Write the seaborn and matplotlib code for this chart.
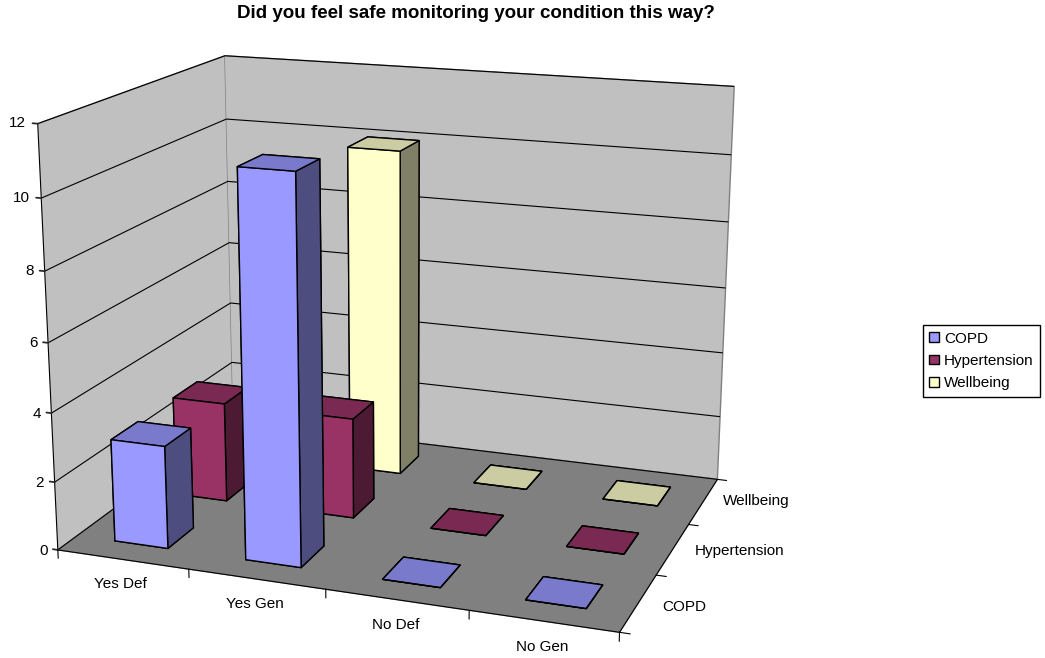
import matplotlib
matplotlib.use("Agg")
import matplotlib.pyplot as plt
from matplotlib.patches import Patch
from matplotlib.transforms import ScaledTranslation
import seaborn as sns

categories = ["Yes Def", "Yes Gen", "No Def", "No Gen"]
series_names = ["COPD", "Hypertension", "Wellbeing"]
copd = [3, 11, 0, 0]
hypertension = [3, 3, 0, 0]
wellbeing = [0, 10, 0, 0]
z_ticks = [0, 2, 4, 6, 8, 10, 12]

sns.set_theme(style="white")
plt.rcParams["font.family"] = ["Liberation Sans", "DejaVu Sans"]

front_colors = sns.color_palette(["#9999FF", "#993366", "#FFFFCC"])
top_colors = sns.color_palette(["#7A7ACC", "#7A2952", "#CCCCA3"])
side_colors = sns.color_palette(["#4D4D80", "#4D1A33", "#808066"])

BAR_W = 0.41
BAR_D = 0.42

fig = plt.figure(figsize=(10.45, 6.58), dpi=100)
ax_px = 799
ax = fig.add_axes(
    [(391 - ax_px / 2) / 1045, (658 - 325 - ax_px / 2) / 658, ax_px / 1045, ax_px / 658],
    projection="3d",
)
ax.computed_zorder = False
ax.set_proj_type("persp", focal_length=0.5)
ax.view_init(elev=16, azim=-70)
ax.set_box_aspect((550, 405, 412))

ax.set_xlim(0, len(categories), view_margin=0)
ax.set_ylim(0, len(series_names), view_margin=0)
ax.set_zlim(z_ticks[0], z_ticks[-1], view_margin=0)

# Walls, floor and horizontal gridlines
for axis, color in ((ax.xaxis, "#C0C0C0"), (ax.yaxis, "#C0C0C0"), (ax.zaxis, "#808080")):
    axis.set_pane_color(color)
    axis.pane.set_edgecolor("#808080")
    axis.line.set_color("black")
    axis.line.set_linewidth(0.8)
for axis in (ax.xaxis, ax.yaxis):
    axis._axinfo["grid"]["linewidth"] = 0
    axis._axinfo["tick"]["inward_factor"] = 0
    axis._axinfo["tick"]["outward_factor"] = 0
ax.zaxis._axinfo["grid"].update(color="black", linewidth=0.8)
ax.zaxis._axinfo["tick"].update(inward_factor=0, outward_factor=0.12)
ax.grid(True)

ax.set_xticks([i + 0.5 for i in range(len(categories))], categories, fontsize=11, color="black")
ax.set_yticks([i + 0.5 for i in range(len(series_names))], series_names, fontsize=11, color="black")
ax.set_zticks(z_ticks, [str(t) for t in z_ticks], fontsize=11, color="black")
ax.zaxis.set_ticks_position("lower")
ax.zaxis.set_label_position("lower")
# The value axis ticks run along x so they stay close to horizontal on screen
ax.zaxis._get_tickdir = lambda position: 0
ax.tick_params(axis="x", pad=0)
ax.tick_params(axis="y", pad=14)
ax.tick_params(axis="z", pad=0)


def shift_tick_labels(axis, dx_pt, dy_pt, ha=None):
    """Offset an axis's tick labels on screen; Axis3D resets label transforms on every fetch."""
    fetch = axis.get_major_ticks
    offset = ScaledTranslation(dx_pt / 72, dy_pt / 72, fig.dpi_scale_trans)

    def shifted(numticks=None):
        ticks = fetch(numticks)
        for tick in ticks:
            tick.label1.set_transform(ax.transData + offset)
            if ha:
                tick.label1.set_ha(ha)
        return ticks

    axis.get_major_ticks = shifted


shift_tick_labels(ax.xaxis, 2, -1.5)
shift_tick_labels(ax.yaxis, -13.5, 29, ha="left")
shift_tick_labels(ax.zaxis, 6.5, 6, ha="right")

# Category boundary ticks on the two floor axes
for i in range(len(categories) + 1):
    ax.plot([i, i], [0, 0], [0, -0.25], color="black", lw=0.8, zorder=0.5)
for j in range(len(series_names) + 1):
    ax.plot([len(categories), len(categories) + 0.07], [j, j], [0, 0], color="black", lw=0.8, zorder=0.5)

# Columns are added from the back row forward so nearer ones overlap farther ones
rows = [copd, hypertension, wellbeing]
order = 2
for j in reversed(range(len(rows))):
    for i, value in enumerate(rows[j]):
        # bar3d face order: bottom, top, -y, +y, -x, +x
        faces = [top_colors[j], top_colors[j], front_colors[j],
                 side_colors[j], side_colors[j], side_colors[j]]
        ax.bar3d(i + 0.5 - BAR_W / 2, j + 0.5 - BAR_D / 2, 0, BAR_W, BAR_D, value,
                 color=faces, edgecolor="black", linewidth=1.0, shade=False, zorder=order)
        order += 1

handles = [Patch(facecolor=c, edgecolor="black", linewidth=1.0, label=n)
           for c, n in zip(front_colors, series_names)]
fig.legend(handles=handles, loc="center", bbox_to_anchor=(981.5 / 1045, 1 - 361 / 658), fontsize=11,
           frameon=True, fancybox=False, edgecolor="black", framealpha=1, borderpad=0.4,
           labelspacing=0.55, handlelength=0.6, handleheight=0.6, handletextpad=0.35,
           borderaxespad=0, labelcolor="black")

fig.suptitle("Did you feel safe monitoring your condition this way?", x=476 / 1045, y=1 - 13 / 658,
             va="center", ha="center", fontsize=13.5, fontweight="bold", color="black")

fig.savefig("out.png", dpi=100)
